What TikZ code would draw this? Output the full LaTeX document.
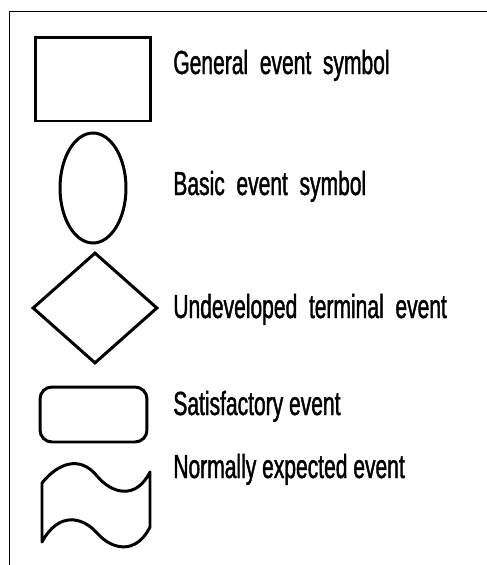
\documentclass[tikz,border=0pt]{standalone}
\usepackage{fontspec}
\newfontfamily\lblfont{Liberation Sans}[FakeStretch=0.63, FakeBold=1.2]
\usepackage{tikz}
\usetikzlibrary{shapes.geometric}

\begin{document}
\begin{tikzpicture}[
    x=0.02cm, y=-0.02cm,
    sym/.style={draw, line width=1.7pt, inner sep=0pt},
    lbl/.style={anchor=base west, inner sep=0pt, font=\lblfont\fontsize{19pt}{21pt}\selectfont},
    frame/.style={line width=1.1pt}
]
\useasboundingbox (0,0) rectangle (487,565);

% open frame, left and top sides only
\draw[frame] (9.5,565) -- (9.5,11.5) -- (487,11.5);

% symbols
\node[sym, rectangle, minimum width=2.32cm, minimum height=1.68cm] (gen) at (93,79) {};
\node[sym, ellipse, minimum width=1.32cm, minimum height=2.2cm] (bas) at (93,188) {};
\node[sym, diamond, minimum width=2.5cm, minimum height=2.22cm] (und) at (95,308) {};
\node[sym, rectangle, rounded corners=0.24cm, minimum width=2.14cm, minimum height=1.1cm] (sat) at (93.5,414.5) {};
\draw[line width=1.7pt, line join=round] (42,483)
    .. controls (58,463) and (80,455) .. (97,476)
    .. controls (112,494) and (136,500) .. (150,472)
    -- (150,527)
    .. controls (136,555) and (112,550) .. (97,533)
    .. controls (82,516) and (58,512) .. (42,542) -- cycle;
\coordinate (nrm) at (96,505);

% labels
\node[lbl] (gen-l) at (173,74) {General\ \ event\ \ symbol};
\node[lbl] (bas-l) at (173,195) {Basic\ \ event\ \ symbol};
\node[lbl] (und-l) at (173,318) {Undeveloped\ \ terminal\ \ event};
\node[lbl] (sat-l) at (173,415) {Satisfactory event};
\node[lbl] (nrm-l) at (173,478) {Normally expected event};
\end{tikzpicture}
\end{document}
